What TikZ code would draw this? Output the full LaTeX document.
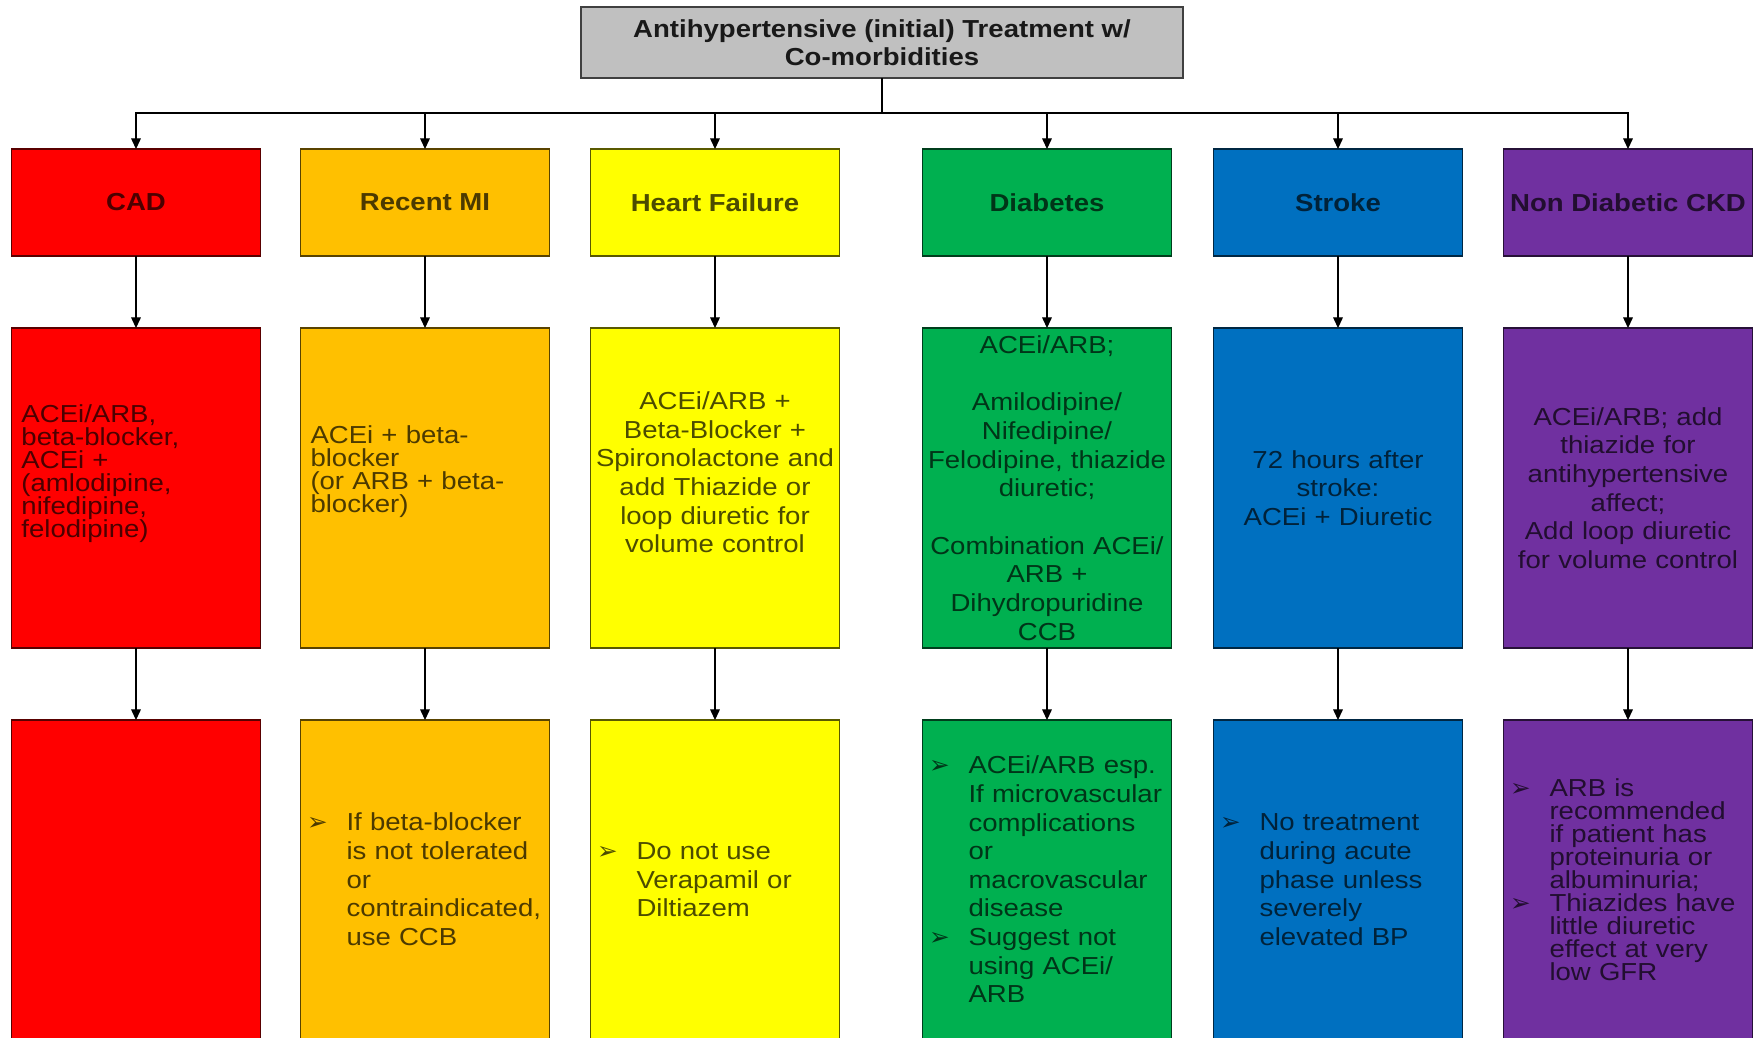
\documentclass[tikz,border=0pt]{standalone}
\usepackage{fontspec}
\setmainfont{Liberation Sans}[FakeStretch=1.12]
\newfontfamily\symfont{DejaVu Sans}
\usetikzlibrary{arrows.meta,positioning,calc}

\definecolor{cadred}{HTML}{FF0000}
\definecolor{mired}{HTML}{FFC000}
\definecolor{hfyellow}{HTML}{FFFF00}
\definecolor{dmgreen}{HTML}{00B050}
\definecolor{strokeblue}{HTML}{0070C0}
\definecolor{ckdpurple}{HTML}{7030A0}
\definecolor{titlegrey}{HTML}{C0C0C0}

\newcommand{\bodyfont}{\fontsize{14}{16.3}\selectfont\hyphenpenalty=10000\lineskiplimit=-20pt}
\newcommand{\tightfont}{\fontsize{14}{13.1}\selectfont\hyphenpenalty=10000\lineskiplimit=-20pt}
\newcommand{\arrowbul}{{\symfont\fontsize{14}{14}\selectfont ➢}}
\newcommand{\bulpar}[1]{\par\noindent\hangindent=0.82cm\hangafter=1\makebox[0.82cm][l]{\hspace{0.03cm}\arrowbul}#1\par}
\newcommand{\lift}[1]{\par\kern#1}

\begin{document}
\begin{tikzpicture}[
    node distance=0.8cm,
    titlebox/.style={rectangle, draw=black!75, line width=1pt, outer sep=0pt, fill=titlegrey, minimum width=12.04cm, minimum height=1.42cm, align=center, text=black!90, font=\bfseries\fontsize{14}{16}\selectfont},
    head/.style={rectangle, draw, line width=0.7pt, outer sep=0pt, minimum width=4.98cm, minimum height=2.14cm, inner xsep=0.05cm, font=\bfseries\fontsize{14}{16}\selectfont},
    info/.style={rectangle, draw, line width=0.7pt, outer sep=0pt, minimum width=4.98cm, minimum height=6.4cm, inner xsep=0.1cm, inner ysep=0pt, text width=4.78cm, font=\bodyfont},
    col/.style={fill=#1, draw=#1!35!black, text=#1!30!black},
    arrow/.style={-{Triangle[width=5.5pt,length=6pt]}, line width=0.6pt}
]
\useasboundingbox (0,0) rectangle (35.12,-20.74);

% co-morbidities
\node[head, col=cadred] (cad) at (2.72,-4.05) {CAD};
\node[head, col=mired, right=0.8cm of cad] (mi) {Recent MI};
\node[head, col=hfyellow, right=0.82cm of mi] (hf) {Heart Failure};
\node[head, col=dmgreen, right=1.66cm of hf] (dm) {Diabetes};
\node[head, col=strokeblue, right=0.84cm of dm] (stroke) {Stroke};
\node[head, col=ckdpurple, right=0.82cm of stroke] (ckd) {Non Diabetic CKD};

\node[titlebox] (title) at ($(cad.north)!0.5!(ckd.north)+(0,2.13)$) {Antihypertensive (initial) Treatment w/\\Co-morbidities};

% treatment
\node[info, col=cadred, align=left, font=\tightfont, below=1.44cm of cad] (cad-rx) {\leftskip=0.1cm ACEi/ARB,\\beta-blocker,\\ACEi +\\(amlodipine,\\nifedipine,\\felodipine)\lift{0.58cm}};
\node[info, col=mired, align=left, font=\tightfont, below=1.44cm of mi] (mi-rx) {\leftskip=0.1cm ACEi + beta-\\blocker\\(or ARB + beta-\\blocker)\lift{0.66cm}};
\node[info, col=hfyellow, align=center, below=1.44cm of hf] (hf-rx) {ACEi/ARB +\\Beta-Blocker +\\Spironolactone and\\add Thiazide or\\loop diuretic for\\volume control\lift{0.62cm}};
\node[info, col=dmgreen, align=center, below=1.44cm of dm] (dm-rx) {ACEi/ARB;\\[16.3pt]Amilodipine/\\Nifedipine/\\Felodipine, thiazide\\diuretic;\\[16.3pt]Combination ACEi/\\ARB +\\Dihydropuridine\\CCB};
\node[info, col=strokeblue, align=center, below=1.44cm of stroke] (stroke-rx) {72 hours after\\stroke:\\ACEi + Diuretic};
\node[info, col=ckdpurple, align=center, below=1.44cm of ckd] (ckd-rx) {ACEi/ARB; add\\thiazide for\\antihypertensive\\affect;\\Add loop diuretic\\for volume control};

% notes
\node[info, col=cadred, below=1.44cm of cad-rx] (cad-note) {};
\node[info, col=mired, align=left, below=1.44cm of mi-rx] (mi-note) {\bulpar{If beta-blocker\newline is not tolerated\newline or\newline contraindicated,\newline use CCB}\lift{0.24cm}};
\node[info, col=hfyellow, align=left, below=1.44cm of hf-rx] (hf-note) {\bulpar{Do not use\newline Verapamil or\newline Diltiazem}\lift{0.24cm}};
\node[info, col=dmgreen, align=left, below=1.44cm of dm-rx] (dm-note) {\bulpar{ACEi/ARB esp.\newline If microvascular\newline complications\newline or\newline macrovascular\newline disease}\bulpar{Suggest not\newline using ACEi/\newline ARB}\lift{0.24cm}};
\node[info, col=strokeblue, align=left, below=1.44cm of stroke-rx] (stroke-note) {\bulpar{No treatment\newline during acute\newline phase unless\newline severely\newline elevated BP}\lift{0.24cm}};
\node[info, col=ckdpurple, align=left, font=\tightfont, below=1.44cm of ckd-rx] (ckd-note) {\bulpar{ARB is\newline recommended\newline if patient has\newline proteinuria or\newline albuminuria;}\bulpar{Thiazides have\newline little diuretic\newline effect at very\newline low GFR}\lift{0.1cm}};

% connectors
\coordinate (bus) at ($(title.south)+(0,-0.7)$);
\draw[line width=0.6pt] (title.south) -- (bus);
\foreach \n in {cad,mi,hf,dm,stroke,ckd}{
  \draw[arrow] (bus) -| (\n.north);
  \draw[arrow] (\n) -- (\n-rx);
  \draw[arrow] (\n-rx) -- (\n-note);
}
\end{tikzpicture}
\end{document}
